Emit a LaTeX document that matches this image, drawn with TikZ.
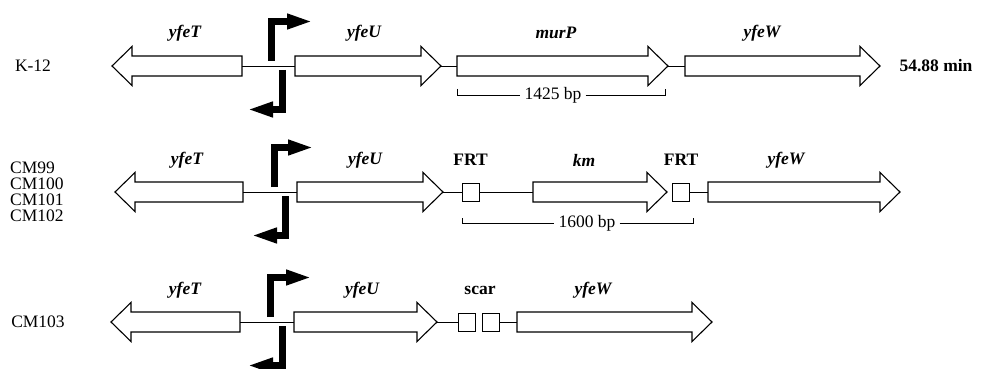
\documentclass[tikz,border=0pt]{standalone}
\usepackage{fontspec}
\setmainfont{Liberation Serif}
\usetikzlibrary{arrows.meta}

% gene drawn as a block arrow pointing right: name, start x, tip x, axis y
\newcommand\generight[4]{%
  \draw[gene] (#2,#4-10) -- (#3-20,#4-10) -- (#3-20,#4-19.5) -- (#3,#4)
    -- (#3-20,#4+19.5) -- (#3-20,#4+10) -- (#2,#4+10) -- cycle;
  \coordinate (#1-s) at (#2,#4);
  \coordinate (#1-e) at (#3,#4);}
% gene drawn as a block arrow pointing left: name, tip x, end x, axis y
\newcommand\geneleft[4]{%
  \draw[gene] (#3,#4-10) -- (#2+20,#4-10) -- (#2+20,#4-19.5) -- (#2,#4)
    -- (#2+20,#4+19.5) -- (#2+20,#4+10) -- (#3,#4+10) -- cycle;
  \coordinate (#1-s) at (#2,#4);
  \coordinate (#1-e) at (#3,#4);}
% divergent promoter pair: name, upper bar x, lower bar x, axis y, right tip x, left tip x
\newcommand\promoters[6]{%
  \coordinate (#1-u0) at (#2,#4-5);
  \coordinate (#1-uc) at (#2,#4-44.5);
  \coordinate (#1-ut) at (#5,#4-44.5);
  \coordinate (#1-l0) at (#3,#4+4);
  \coordinate (#1-lc) at (#3,#4+43.5);
  \coordinate (#1-lt) at (#6,#4+43.5);
  \draw[prom] (#1-u0) -- (#1-uc) -- (#1-ut);
  \draw[prom] (#1-l0) -- (#1-lc) -- (#1-lt);}

\tikzset{
  gene/.style={draw=black, fill=white, line width=1.1pt, line join=miter},
  link/.style={draw=black, line width=0.9pt},
  prom/.style={draw=black, line width=7pt, line join=miter, line cap=butt,
    -{Triangle[length=26pt,width=14pt]}},
  site/.style={draw=black, fill=white, line width=1pt, minimum width=17pt,
    minimum height=18pt, inner sep=0pt},
  genename/.style={font=\fontsize{17.5}{18}\selectfont\bfseries\itshape, inner sep=0pt},
  tag/.style={font=\fontsize{17.5}{18}\selectfont\bfseries, inner sep=0pt},
  strain/.style={font=\fontsize{17.5}{18}\selectfont, inner sep=0pt},
  span/.style={draw=black, line width=0.8pt},
  spantext/.style={font=\fontsize{17.5}{18}\selectfont, inner sep=4pt, fill=white},
}

\begin{document}
\begin{tikzpicture}[x=1pt, y=-1pt]
\useasboundingbox (0,0) rectangle (991,369);

% ---------- wild type K-12 ----------
\node[strain] (k12) at (33,66) {K-12};
\geneleft{aT}{112}{242}{66}
\generight{aU}{295}{441}{66}
\generight{aP}{457}{668}{66}
\generight{aW}{685}{880}{66}
\draw[link] (aT-e) -- (aU-s);
\draw[link] (aU-e) -- (aP-s);
\draw[link] (aP-e) -- (aW-s);
\promoters{ap}{271.5}{282.5}{66}{313}{247}
\node[genename] (laT) at (185,33) {yfeT};
\node[genename] (laU) at (364,33) {yfeU};
\node[genename] (laP) at (556,33) {murP};
\node[genename] (laW) at (762,33) {yfeW};
\node[tag] (min) at (936,66) {54.88 min};
\coordinate (ab1) at (457,89);
\coordinate (ab2) at (665,89);
\node[spantext] (abp) at (553,95) {1425 bp};
\draw[span] (ab1) |- (abp.west);
\draw[span] (abp.east) -| (ab2);

% ---------- FRT-km insertion strains ----------
\node[strain, anchor=west] (cm99) at (10,168) {CM99};
\node[strain, anchor=west] (cm100) at (10,184) {CM100};
\node[strain, anchor=west] (cm101) at (10,200) {CM101};
\node[strain, anchor=west] (cm102) at (10,216) {CM102};
\geneleft{bT}{115}{243}{192}
\generight{bU}{297}{443}{192}
\node[site] (frt1) at (470.5,192) {};
\generight{bK}{533}{667}{192}
\node[site] (frt2) at (681,192) {};
\generight{bW}{708}{900}{192}
\draw[link] (bT-e) -- (bU-s);
\draw[link] (bU-e) -- (frt1.west);
\draw[link] (frt1.east) -- (bK-s);
\draw[link] (frt2.east) -- (bW-s);
\promoters{bp}{274}{285}{192}{314}{251}
\node[genename] (lbT) at (187,160) {yfeT};
\node[genename] (lbU) at (365,160) {yfeU};
\node[tag] (lf1) at (470.5,160) {FRT};
\node[genename] (lbK) at (584,160) {km};
\node[tag] (lf2) at (681,160) {FRT};
\node[genename] (lbW) at (786,160) {yfeW};
\coordinate (bb1) at (462,218);
\coordinate (bb2) at (693,218);
\node[spantext] (bbp) at (587,223) {1600 bp};
\draw[span] (bb1) |- (bbp.west);
\draw[span] (bbp.east) -| (bb2);

% ---------- scar strain ----------
\node[strain] (cm103) at (38,322) {CM103};
\geneleft{cT}{111}{240}{322}
\generight{cU}{294}{437}{322}
\node[site] (sc1) at (466.5,322) {};
\node[site] (sc2) at (491,322) {};
\generight{cW}{517}{712}{322}
\draw[link] (cT-e) -- (cU-s);
\draw[link] (cU-e) -- (sc1.west);
\draw[link] (sc2.east) -- (cW-s);
\promoters{cp}{270}{282}{322}{312}{247}
\node[genename] (lcT) at (185,290) {yfeT};
\node[genename] (lcU) at (362,290) {yfeU};
\node[tag] (lsc) at (480,290) {scar};
\node[genename] (lcW) at (593,290) {yfeW};
\end{tikzpicture}
\end{document}
